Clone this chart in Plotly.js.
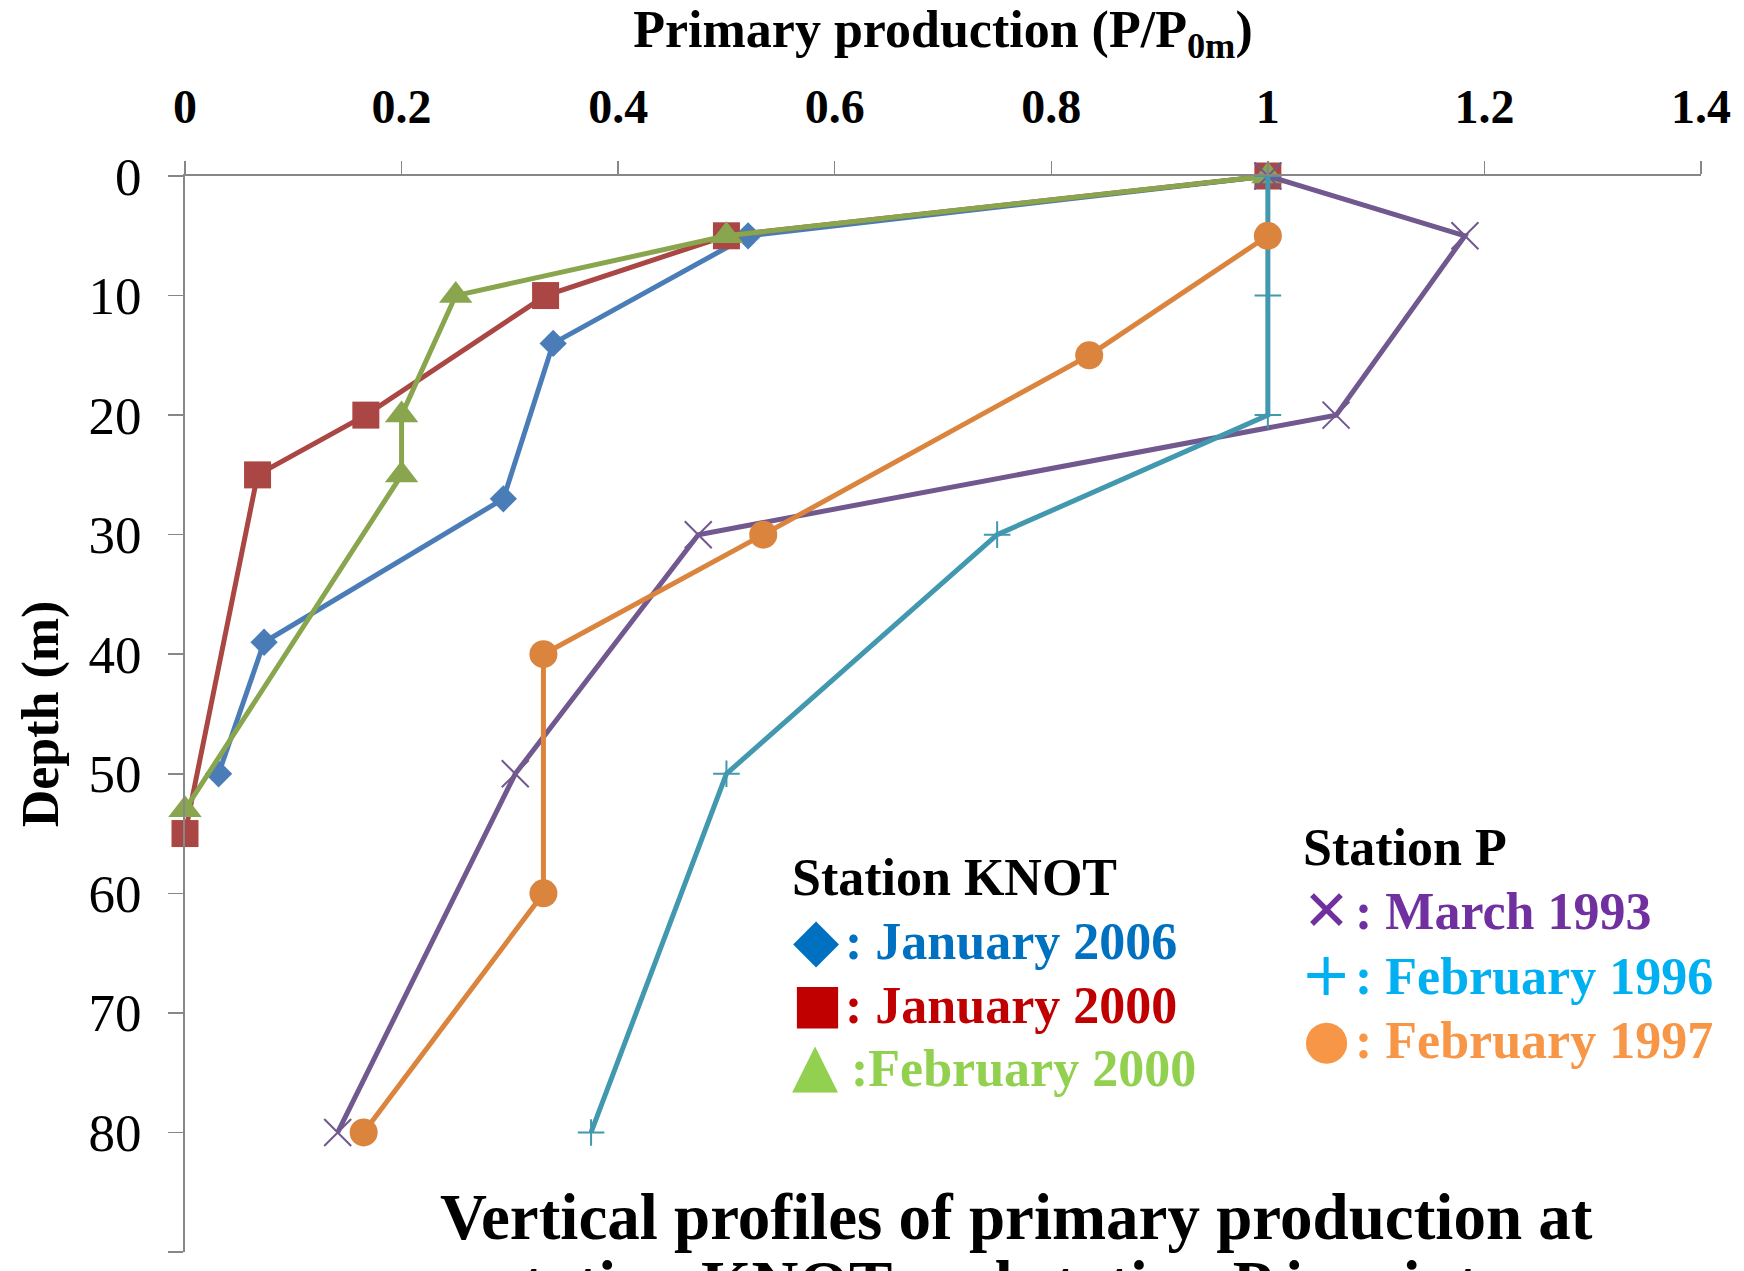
<!DOCTYPE html>
<html>
<head>
<meta charset="utf-8">
<script src="https://cdn.plot.ly/plotly-3.0.1.min.js"></script>
<style>html,body{margin:0;padding:0;background:#fff;overflow:hidden}#chart{width:1744px;height:1271px}</style>
</head>
<body>
<div id="chart"></div>
<script>
// ---- data ----
const jan2006Depth = [0, 5, 14, 27, 39, 50];
const jan2006Prod  = [1, 0.52, 0.34, 0.294, 0.073, 0.031];

const jan2000Depth = [0, 5, 10, 20, 25, 55];
const jan2000Prod  = [1, 0.50, 0.333, 0.167, 0.067, 0];

const feb2000Depth = [0, 5, 10, 20, 25, 53];
const feb2000Prod  = [1, 0.50, 0.25, 0.20, 0.20, 0];

const mar1993Depth = [0, 5, 20, 30, 50, 80];
const mar1993Prod  = [1, 1.182, 1.063, 0.474, 0.305, 0.141];

const feb1996Depth = [0, 10, 20, 30, 50, 80];
const feb1996Prod  = [1, 1, 1, 0.750, 0.500, 0.375];

const feb1997Depth = [5, 15, 30, 40, 60, 80];
const feb1997Prod  = [1, 0.835, 0.534, 0.331, 0.331, 0.165];

const xTickVals = [0, 0.2, 0.4, 0.6, 0.8, 1, 1.2, 1.4];
const yTickVals = [0, 10, 20, 30, 40, 50, 60, 70, 80, 90];

const knotTitle = 'Station KNOT';
const knotLabels = [': January 2006', ': January 2000', ':February 2000'];
const pTitle = 'Station P';
const pLabels = [': March 1993', ': February 1996', ': February 1997'];
const bottomTitle = ['Vertical profiles of primary production at', 'station KNOT and station P in winter'];

// ---- styling ----
const SERIF = 'Liberation Serif, Times New Roman, serif';
const W = 1744, H = 1271, L = 185, R = 1701, T = 176, B = 1252;
const px = v => (v - L) / (R - L);
const py = v => (B - v) / (B - T);
const topFromBaseline = (base, size) => py(base - 1 - 0.891 * size);

function series(x, y, name, color, symbol, size, thin) {
  const marker = {symbol: symbol, size: size, color: color};
  if (thin) marker.line = {color: color, width: 2};
  return {x: x, y: y, name: name, type: 'scatter', mode: 'lines+markers',
          line: {color: color, width: 5}, marker: marker, showlegend: false,
          cliponaxis: false};
}

const traces = [
  series(jan2006Prod, jan2006Depth, 'January 2006', '#4A7DB8', 'diamond', 21, false),
  series(jan2000Prod, jan2000Depth, 'January 2000', '#AA4643', 'square', 27, false),
  series(feb2000Prod, feb2000Depth, 'February 2000', '#89A54E', 'triangle-up', 29, false),
  series(mar1993Prod, mar1993Depth, 'March 1993', '#71588F', 'x-thin', 27, true),
  series(feb1996Prod, feb1996Depth, 'February 1996', '#4198AF', 'cross-thin', 19, true),
  series(feb1997Prod, feb1997Depth, 'February 1997', '#DB843D', 'circle', 28, false)
];

const LF = 52; // legend font
const ann = [];
function textAnn(text, xLeft, base, size, color, bold) {
  ann.push({text: text, xref: 'paper', yref: 'paper', x: px(xLeft), y: topFromBaseline(base, size),
            xanchor: 'left', yanchor: 'top', showarrow: false,
            font: {family: SERIF, size: size, color: color, weight: bold ? 'bold' : 'normal'}});
}
function glyphAnn(glyph, cx, cy, size, color) {
  ann.push({text: glyph, xref: 'paper', yref: 'paper', x: px(cx), y: py(cy),
            xanchor: 'center', yanchor: 'middle', showarrow: false,
            font: {family: 'DejaVu Sans', size: size, color: color}});
}
// Station KNOT legend
textAnn(knotTitle, 790, 894, LF, '#000000', true);
glyphAnn('◆', 816, 939, 60, '#0070C0');
textAnn(knotLabels[0], 843, 958, LF, '#0070C0', true);
glyphAnn('■', 817, 1003, 54, '#C00000');
textAnn(knotLabels[1], 843, 1022, LF, '#C00000', true);
glyphAnn('▲', 815, 1064, 60, '#92D050');
textAnn(knotLabels[2], 849, 1085, LF, '#92D050', true);
// Station P legend
textAnn(pTitle, 1301, 864, LF, '#000000', true);
glyphAnn('✕', 1326, 910, 56, '#7030A0');
textAnn(pLabels[0], 1353, 928, LF, '#7030A0', true);
glyphAnn('+', 1326, 974, 60, '#00B0F0');
textAnn(pLabels[1], 1353, 993, LF, '#00B0F0', true);
glyphAnn('●', 1326, 1038, 54, '#F79646');
textAnn(pLabels[2], 1353, 1057, LF, '#F79646', true);
// bottom title (cut off by the page edge as in the reference)
const BF = 65;
ann.push({text: bottomTitle[0], xref: 'paper', yref: 'paper', x: px(1016), y: topFromBaseline(1238, BF),
          xanchor: 'center', yanchor: 'top', showarrow: false,
          font: {family: SERIF, size: BF, color: '#000', weight: 'bold'}});
ann.push({text: bottomTitle[1], xref: 'paper', yref: 'paper', x: px(1016), y: topFromBaseline(1305, BF),
          xanchor: 'center', yanchor: 'top', showarrow: false,
          font: {family: SERIF, size: BF, color: '#000', weight: 'bold'}});

const AX = '#878787';
const layout = {
  width: W, height: H,
  margin: {l: L, r: W - R, t: T, b: H - B, pad: 0},
  paper_bgcolor: '#ffffff', plot_bgcolor: '#ffffff',
  showlegend: false,
  xaxis: {
    side: 'top', range: [0, 1.4], tickvals: xTickVals, ticks: 'outside', ticklen: 13, tickwidth: 1.5,
    tickcolor: AX, showline: true, linecolor: AX, linewidth: 1.8, showgrid: false, zeroline: false,
    tickfont: {family: SERIF, size: 48, color: '#000', weight: 'bold'}, ticklabelstandoff: 19,
    title: {text: 'Primary production (P/P<sub>0m</sub>)', standoff: 16,
            font: {family: SERIF, size: 52, color: '#000', weight: 'bold'}},
    automargin: false, fixedrange: true
  },
  yaxis: {
    range: [90, 0], tickvals: yTickVals, ticks: 'outside', ticklen: 15, tickwidth: 1.5,
    tickcolor: AX, showline: true, linecolor: AX, linewidth: 1.8, showgrid: false, zeroline: false,
    tickfont: {family: SERIF, size: 53, color: '#000'}, ticklabelstandoff: 16,
    title: {text: 'Depth (m)', standoff: 13,
            font: {family: SERIF, size: 52, color: '#000', weight: 'bold'}},
    automargin: false, fixedrange: true
  },
  annotations: ann
};

Plotly.newPlot('chart', traces, layout, {staticPlot: true, displayModeBar: false});
</script>
</body>
</html>
